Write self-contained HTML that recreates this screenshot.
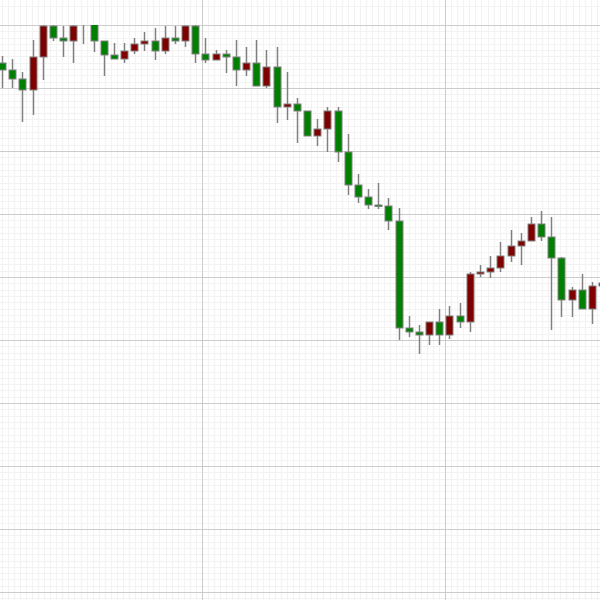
<!DOCTYPE html>
<html><head><meta charset="utf-8"><style>
html,body{margin:0;padding:0;background:#fff;}
svg{display:block;}
</style></head><body>
<svg id="chart" width="600" height="600" xmlns="http://www.w3.org/2000/svg">
<g id="grid"></g>
<g id="candles" clip-path="url(#clip)"></g>
<defs><clipPath id="clip"><rect x="0" y="25" width="600" height="575"/></clipPath></defs>
</svg>
<script>
const opens  = [337,330,321,310,343,374,362,359,380,378,359,345,341,349,356,359,349,362,359,374,346,340,346,343,330,337,314,333,293,296,289,264,271,289,248,215,203,195,194,179,72,68,65,78,65,84,78,126,128,132,144,154,159,176,163,142,100,110,91,114];
const closes = [330,321,310,343,374,362,359,374,378,359,345,341,349,356,359,349,362,359,374,346,340,346,343,330,337,314,333,293,296,289,264,271,289,248,215,203,195,194,179,72,68,65,78,65,84,78,126,128,132,144,154,159,176,163,142,100,110,91,114,117];
const highs  = [344,341,328,360,380,380,374,380,385,380,359,357,357,362,368,372,374,374,380,380,362,350,350,360,353,360,350,353,328,302,289,281,293,293,266,226,211,217,202,192,84,75,78,91,94,97,128,135,144,158,170,167,183,189,183,143,113,126,118,120];
const lows   = [312,312,278,285,320,359,343,337,356,348,324,341,337,346,349,340,346,356,353,337,337,340,327,314,324,314,312,277,280,257,264,254,248,238,205,197,191,191,170,60,63,46,55,55,61,72,68,123,122,128,138,135,159,159,70,83,83,91,76,110];
const yTicks = [25,88,151,214,277,340,403,466,529,592];

const NS="http://www.w3.org/2000/svg";
function yScale(p){return 400-p;}
function xScale(i){return 2+i*10.17;}
const grid=document.getElementById('grid');
function line(x1,y1,x2,y2,c,name){
  const l=document.createElementNS(NS,'line');
  l.setAttribute('x1',x1);l.setAttribute('y1',y1);l.setAttribute('x2',x2);l.setAttribute('y2',y2);
  l.setAttribute('stroke',c);l.setAttribute('stroke-width',1);
  
  
  grid.appendChild(l);
}
for(let y=25-63*0;y<600;y+=6.3){line(0,Math.round(y)+0.5,600,Math.round(y)+0.5,'#f2f2f2','minor-gridline');}
for(let y=25-6.3*3;y>0;y-=6.3){line(0,Math.round(y)+0.5,600,Math.round(y)+0.5,'#f2f2f2','minor-gridline');}
for(let x=202;x<600;x+=6.075){line(Math.round(x)+0.5,0,Math.round(x)+0.5,600,'#f2f2f2','minor-gridline');}
for(let x=202;x>0;x-=6.075){line(Math.round(x)+0.5,0,Math.round(x)+0.5,600,'#f2f2f2','minor-gridline');}
yTicks.forEach(t=>line(0,t+0.5,600,t+0.5,'#cccccc','major-gridline'));
[202,445].forEach(x=>line(x+0.5,0,x+0.5,600,'#cccccc','major-gridline'));

const cg=document.getElementById('candles');
for(let i=0;i<opens.length;i++){
  const x=xScale(i);
  const g=document.createElementNS(NS,'g');
  
  
  const w=document.createElementNS(NS,'line');
  const cx=Math.round(x)+0.5;
  w.setAttribute('x1',cx);w.setAttribute('x2',cx);
  w.setAttribute('y1',yScale(highs[i]));w.setAttribute('y2',yScale(lows[i]));
  w.setAttribute('stroke','#808080');w.setAttribute('stroke-width',1.5);
  
  
  g.appendChild(w);
  const top=yScale(Math.max(opens[i],closes[i])), bot=yScale(Math.min(opens[i],closes[i]));
  const r=document.createElementNS(NS,'rect');
  r.setAttribute('x',cx-3.5);r.setAttribute('width',7);
  r.setAttribute('y',top);r.setAttribute('height',Math.max(bot-top,1.5));
  r.setAttribute('fill',closes[i]<opens[i]?'#008000':'#800000');
  r.setAttribute('stroke','#808080');r.setAttribute('stroke-width',1);
  
  
  g.appendChild(r);
  cg.appendChild(g);
}
</script>
</body></html>
